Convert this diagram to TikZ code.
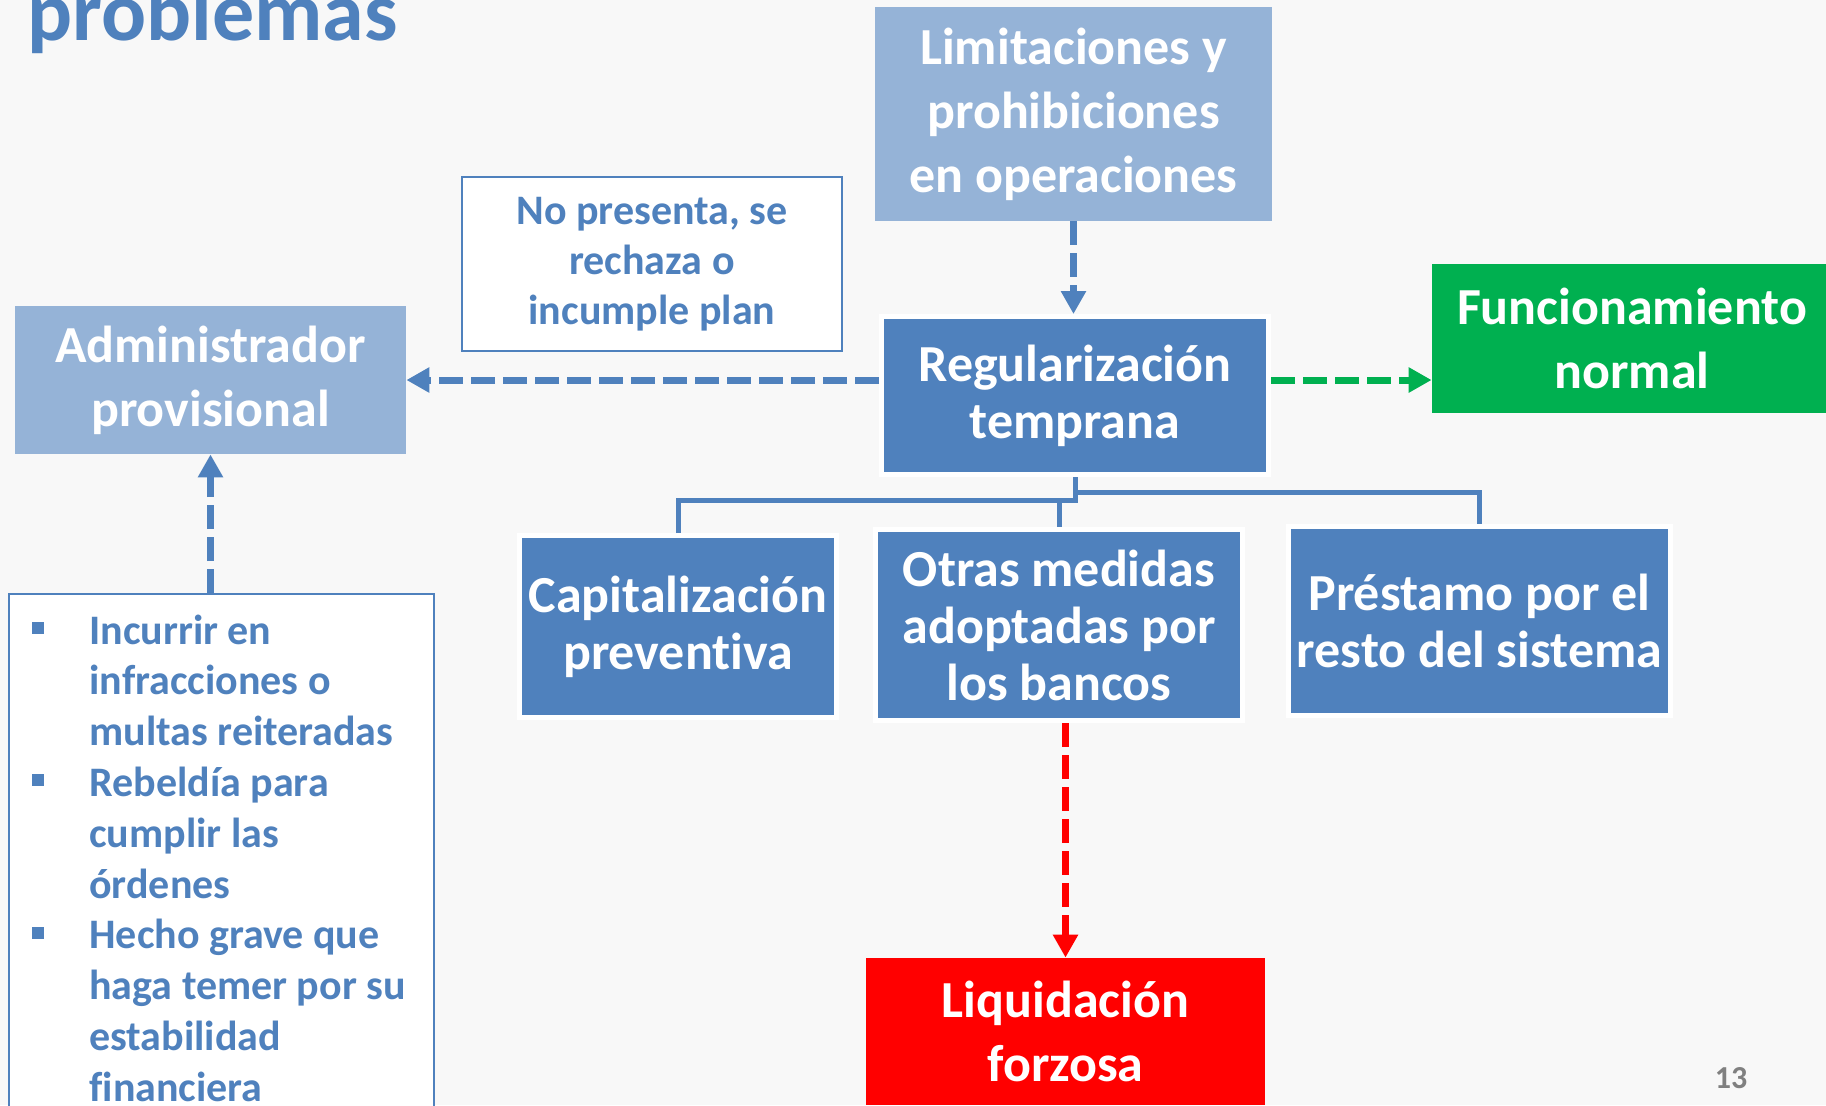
\documentclass[tikz,border=0pt]{standalone}
\usepackage{fontspec}
\setmainfont[Ligatures=NoCommon]{Carlito}
\usetikzlibrary{positioning,arrows.meta,backgrounds}
\definecolor{darkFill}{RGB}{79,129,189}
\definecolor{lightFill}{RGB}{149,179,215}
\definecolor{okFill}{RGB}{0,176,80}
\definecolor{badFill}{RGB}{255,0,0}
\definecolor{backG}{RGB}{248,248,248}
\definecolor{numG}{RGB}{128,128,128}
\newcommand{\bul}{\makebox[28.5pt][l]{\rule[5pt]{6pt}{6pt}}}
\newcommand{\sangria}{\hspace*{28.5pt}}

\begin{document}
\begin{tikzpicture}[
	x=0.5pt, y=-0.5pt,
	bigtext/.style={font=\fontsize{26}{32}\selectfont\bfseries, text=white,
		align=center, inner sep=0pt},
	lightbox/.style={bigtext, fill=lightFill},
	darkbox/.style={bigtext, fill=darkFill, draw=white, line width=2.5pt,
		font=\fontsize{26}{28.5}\selectfont\bfseries},
	notebox/.style={draw=darkFill, line width=1pt, fill=white, text=darkFill,
		font=\fontsize{21}{25}\selectfont\bfseries, align=center, inner sep=0pt},
	dasharrow/.style={line width=3.5pt, dash pattern=on 12pt off 4pt,
		-{Triangle[length=11.5pt, width=12pt]}},
	treeline/.style={line width=2.5pt, draw=darkFill},
	]
	\useasboundingbox (0,0) rectangle (1826,1105);
	
	\node [anchor=base west, inner sep=0pt, text=darkFill,
		font=\fontsize{42}{50}\selectfont\bfseries] (titulo) at (27,40) {problemas};
	
	\node [lightbox, minimum width=198.5pt, minimum height=107pt] (limit) at (1073.5,114)
		{Limitaciones y\\prohibiciones\\en operaciones};
	\node [darkbox, minimum width=193.5pt, minimum height=79pt] (reg) at (1075,395.5)
		{Regularización\\temprana};
	\node [lightbox, fill=okFill, minimum width=200pt, minimum height=74.5pt] (normal) at (1632,338.5)
		{Funcionamiento\\normal};
	\node [notebox, minimum width=190pt, minimum height=87pt] (plan) at (652,264)
		{No presenta, se\\rechaza o\\incumple plan};
	\node [lightbox, minimum width=195.5pt, minimum height=74pt] (admin) at (210.5,380)
		{Administrador\\provisional};
	\node [darkbox, minimum width=158.5pt, minimum height=91pt] (cap) at (678,626.5)
		{Capitalización\\preventiva};
	\node [darkbox, minimum width=183.5pt, minimum height=95.5pt] (otras) at (1059,625)
		{Otras medidas\\adoptadas por\\los bancos};
	\node [darkbox, minimum width=191pt, minimum height=94.5pt] (prest) at (1479.5,621)
		{Préstamo por el\\resto del sistema};
	\node [lightbox, fill=badFill, minimum width=199.5pt, minimum height=73.5pt] (liq) at (1065.5,1031.5)
		{Liquidación\\forzosa};
	
	% causales del administrador provisional
	\node [notebox, anchor=north west, minimum width=212.5pt, minimum height=300pt] (causas) at (8,593) {};
	\node [anchor=base west, inner sep=0pt, text=darkFill,
		font=\fontsize{21}{25.4}\selectfont\bfseries] (causastxt) at (32,644)
		{\parbox[t]{200pt}{\raggedright
		\bul Incurrir en\\
		\sangria infracciones o\\
		\sangria multas reiteradas\\
		\bul Rebeldía para\\
		\sangria cumplir las\\
		\sangria órdenes\\
		\bul Hecho grave que\\
		\sangria haga temer por su\\
		\sangria estabilidad\\
		\sangria financiera}};
	
	\node [anchor=base, inner sep=0pt, text=numG,
		font=\fontsize{16}{19}\selectfont\bfseries] (pagina) at (1731,1088) {13};
	
	\draw [dasharrow, darkFill] (limit.south) -- (limit.south |- reg.north);
	\draw [dasharrow, darkFill] (reg.west |- admin.east) -- (admin.east);
	\draw [dasharrow, okFill] (reg.east |- admin.east) -- (normal.west |- admin.east);
	\draw [dasharrow, badFill] (liq.north |- otras.south) -- (liq.north);
	\draw [dasharrow, darkFill] (admin.south |- causas.north) -- (admin.south);
	
	\coordinate (hub) at (1075,500);
	\coordinate (hubr) at (1075,492);
	\draw [treeline] (reg.south) -- (hub) -- (otras.north |- hub) -- (otras.north);
	\draw [treeline] (cap.north) |- (otras.north |- hub);
	\draw [treeline] (hubr) -| (prest.north);
	
	\begin{pgfonlayer}{background}
	\fill [backG] (0,0) rectangle (1826,1105);
	\end{pgfonlayer}
\end{tikzpicture}
\end{document}
